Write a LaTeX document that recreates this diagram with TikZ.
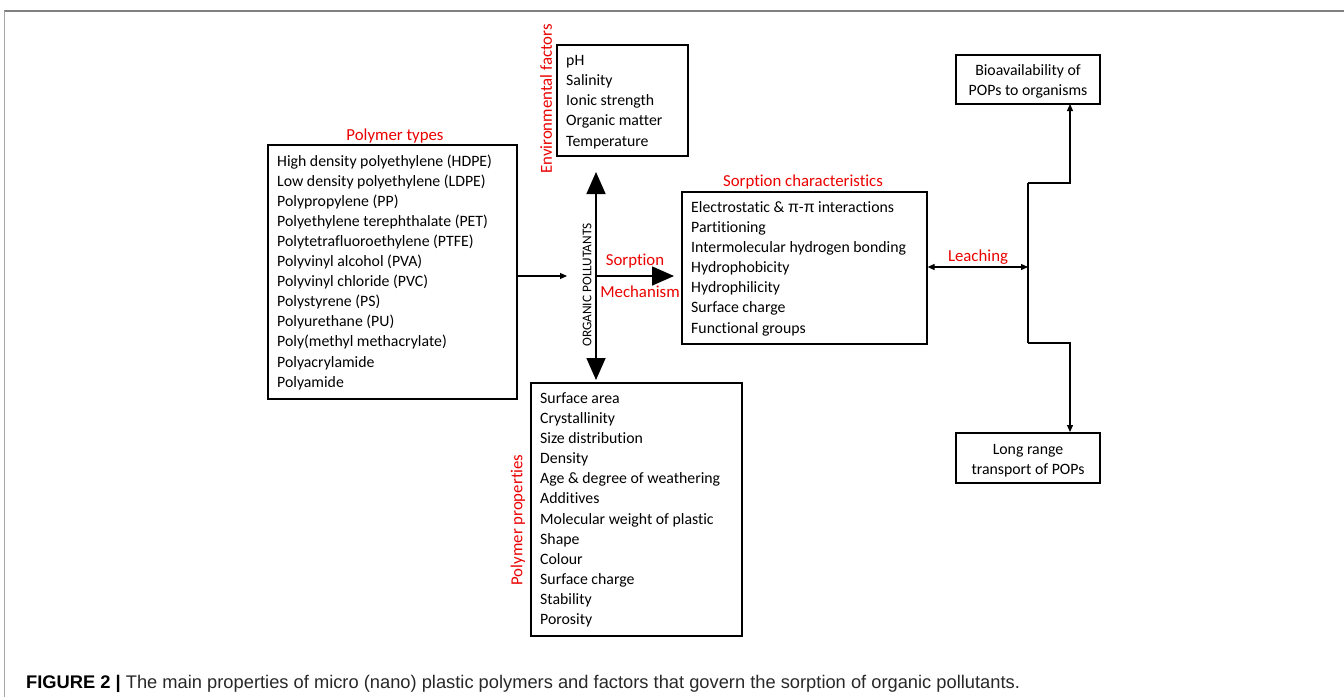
\documentclass[tikz,border=0pt]{standalone}
\usepackage{fontspec}
\setmainfont[Ligatures=NoCommon]{Carlito}
\newfontfamily\capfont{Liberation Sans}
\newfontfamily\pifont{Liberation Sans}
\usetikzlibrary{arrows.meta}
\definecolor{lblred}{RGB}{235,0,0}
\definecolor{captext}{RGB}{40,40,40}
\begin{document}
\begin{tikzpicture}[x=1pt,y=-1pt,
  box/.style={draw, line width=1.2pt, inner sep=0pt},
  item/.style={inner sep=0pt, font=\fontsize{15.8}{19}\selectfont, anchor=base west},
  ctr/.style={inner sep=0pt, font=\fontsize{15.8}{19}\selectfont, anchor=base},
  lbl/.style={inner sep=0pt, text=lblred, font=\fontsize{16.8}{19}\selectfont},
  big/.style={line width=1.6pt},
  bigtip/.tip={Triangle[width=19pt,length=22pt]},
  smalltip/.tip={Triangle[width=6pt,length=7pt]},
  thin/.style={line width=1.2pt}]
\useasboundingbox (0,0) rectangle (1344,697);
% frame
\draw[gray, line width=2pt] (4,11) -- (1344,11);
\draw[gray!70, line width=1pt] (4,11) -- (4,697);

% boxes
\node[box, minimum width=249pt, minimum height=254pt] (pt) at (392.5,272) {};
\node[box, minimum width=131pt, minimum height=111pt] (env) at (622.5,100.5) {};
\node[box, minimum width=245pt, minimum height=152pt] (sc) at (804.5,268) {};
\node[box, minimum width=211pt, minimum height=253pt] (pp) at (636.5,509.5) {};
\node[box, minimum width=144pt, minimum height=49pt] (bio) at (1028,79.5) {};
\node[box, minimum width=144pt, minimum height=50pt] (lr) at (1028,458) {};

% polymer types
\node[lbl, anchor=base] (ptt) at (395,140) {Polymer types};
\foreach \t [count=\i] in {High density polyethylene (HDPE), Low density polyethylene (LDPE), Polypropylene (PP), Polyethylene terephthalate (PET), Polytetrafluoroethylene (PTFE), Polyvinyl alcohol (PVA), Polyvinyl chloride (PVC), Polystyrene (PS), Polyurethane (PU), Poly(methyl methacrylate), Polyacrylamide, Polyamide}
  \node[item] (pt\i) at (277,{166+20.1*(\i-1)}) {\t};

% environmental factors
\node[lbl, rotate=90] (envt) at (546,99) {Environmental factors};
\foreach \t [count=\i] in {pH, Salinity, Ionic strength, Organic matter, Temperature}
  \node[item] (env\i) at (566,{65+20.25*(\i-1)}) {\t};

% sorption characteristics
\node[lbl, anchor=base] (sct) at (803,186) {Sorption characteristics};
\foreach \t [count=\i] in {Electrostatic \& {\pifont π}-{\pifont π} interactions, Partitioning, Intermolecular hydrogen bonding, Hydrophobicity, Hydrophilicity, Surface charge, Functional groups}
  \node[item] (sc\i) at (691,{212+20.17*(\i-1)}) {\t};

% polymer properties
\node[lbl, rotate=90] (ppt) at (518,520) {Polymer properties};
\foreach \t [count=\i] in {Surface area, Crystallinity, Size distribution, Density, Age \& degree of weathering, Additives, Molecular weight of plastic, Shape, Colour, Surface charge, Stability, Porosity}
  \node[item] (pp\i) at (540,{403+20.18*(\i-1)}) {\t};

% bio / long range
\node[ctr] (bio1) at (1028,75) {Bioavailability of};
\node[ctr] (bio2) at (1028,95) {POPs to organisms};
\node[ctr] (lr1) at (1028,454) {Long range};
\node[ctr] (lr2) at (1028,474) {transport of POPs};

% central arrows
\coordinate (vt) at (596,172);
\coordinate (vb) at (596,380);
\coordinate (vc) at (596,276);
\coordinate (ht) at (674,276);
\draw[big, bigtip-bigtip] (vt) -- (vb);
\draw[big, -{Triangle[width=19pt,length=22pt]}] (vc) -- (ht);
\node[inner sep=0pt, rotate=90, font=\fontsize{13.3}{15}\selectfont] (op) at (587,285) {ORGANIC POLLUTANTS};
\node[lbl, anchor=base] (sorp) at (635,265) {Sorption};
\node[lbl, anchor=base] (mech) at (640,297) {Mechanism};

% polymer types -> centre
\coordinate (pin) at (567,276);
\draw[thin, -smalltip] (pt.east |- pin) -- (pin);

% leaching
\coordinate (lj) at (1028,267);
\draw[thin, smalltip-smalltip] (sc.east |- lj) -- (lj);
\node[lbl, anchor=base] (leach) at (978,261) {Leaching};

% right path
\coordinate (rt) at (1028,183);
\coordinate (rb) at (1028,343);
\draw[thin] (rt) -- (rb);
\draw[thin, -smalltip] (rt) -- (1070,183) -- (1070,104);
\draw[thin, -smalltip] (rb) -- (1070,343) -- (1070,432);

% caption
\node[inner sep=0pt, anchor=base west, font=\capfont\fontsize{18.3}{21}\selectfont, text=captext] (cap) at (26,688) {\textcolor{black}{\textbf{FIGURE 2 |}} The main properties of micro (nano) plastic polymers and factors that govern the sorption of organic pollutants.};
\end{tikzpicture}
\end{document}
